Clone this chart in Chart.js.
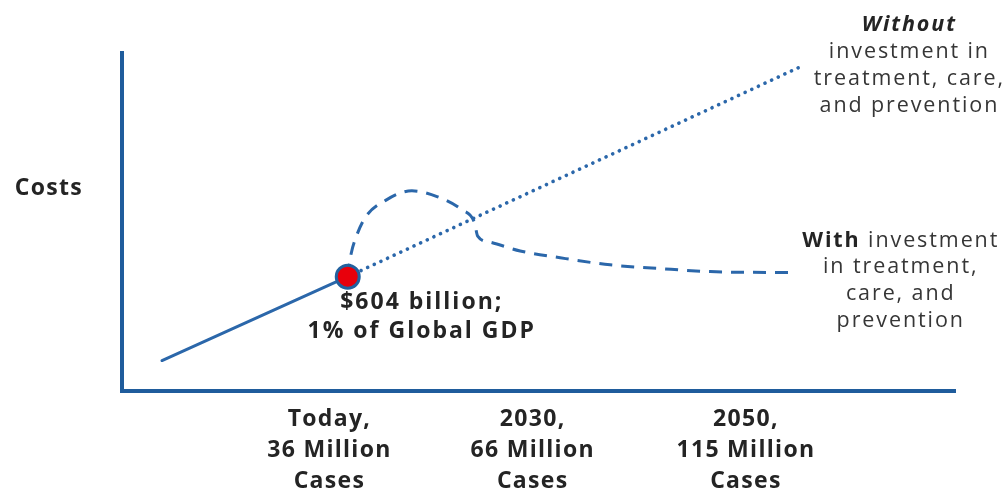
<!DOCTYPE html>
<html>
<head>
<meta charset="utf-8">
<script src="https://cdn.jsdelivr.net/npm/chart.js@4.4.1/dist/chart.umd.min.js"></script>
<style>
html, body { margin: 0; padding: 0; background: #ffffff; }
#wrap { width: 1007px; height: 490px; position: relative; }
</style>
</head>
<body>
<div id="wrap"><canvas id="c" width="1007" height="490"></canvas></div>
<script>
// ---- data (abstract units: x 0..100 across the axis, y 0..100 up the axis) ----
const xTickValues = [24.9, 49.3, 74.9];
const xTickLabels = [["Today,", "36 Million", "Cases"], ["2030,", "66 Million", "Cases"], ["2050,", "115 Million", "Cases"]];
const yTickValues = [59.8];
const yTickLabels = ["Costs"];

const pastX = [4.8, 27.1];
const pastY = [9.0, 33.8];

const withoutX = [27.1, 81.2];
const withoutY = [33.8, 95.6];

const withX = [27.1, 27.5, 28.1, 29.2, 31.6, 34.8, 37.9, 40.8, 42.3, 42.7, 44.2, 47.8, 52.6, 58.6, 64.6, 70.6, 81.0];
const withY = [33.8, 40.5, 45.5, 51.3, 56.3, 59.2, 57.4, 53.6, 49.9, 45.8, 44.0, 41.4, 39.4, 37.3, 36.2, 35.3, 35.0];

const todayX = [27.1];
const todayY = [33.8];

const todayNote = ["$604 billion;", "1% of Global GDP"];
const withoutNote = [[["Without", "bolditalic"]], [["investment in", "regular"]], [["treatment, care,", "regular"]], [["and prevention", "regular"]]];
const withNote = [[["With", "bold"], [" investment", "regular"]], [["in treatment,", "regular"]], [["care, and", "regular"]], [["prevention", "regular"]]];

// ---- styling ----
const FAMILY = "'Open Sans', 'Noto Sans', sans-serif";
const AXIS_COLOR = '#1f5c9c';
const LINE_COLOR = '#2b67aa';
const TEXT_DARK = '#242424';
const TEXT_REG = '#363636';
const SPACING = '1.3px';

function pts(xs, ys) { return xs.map((v, i) => ({ x: v, y: ys[i] })); }

const spacingPlugin = {
  id: 'spacing',
  beforeUpdate(chart) { chart.ctx.letterSpacing = SPACING; },
  beforeLayout(chart) { chart.ctx.letterSpacing = SPACING; },
  beforeDraw(chart) { chart.ctx.letterSpacing = SPACING; }
};

function fontFor(style, size) {
  if (style === 'bold') return `bold ${size}px ${FAMILY}`;
  if (style === 'bolditalic') return `italic bold ${size}px ${FAMILY}`;
  return `${size}px ${FAMILY}`;
}

function drawMixedLine(ctx, parts, cx, cy, size, spacing) {
  ctx.letterSpacing = spacing;
  let total = 0;
  const widths = parts.map(p => { ctx.font = fontFor(p[1], size); const w = ctx.measureText(p[0]).width; total += w; return w; });
  let x = cx - total / 2;
  parts.forEach((p, i) => {
    ctx.font = fontFor(p[1], size);
    ctx.fillStyle = p[1] === 'regular' ? TEXT_REG : TEXT_DARK;
    ctx.fillText(p[0], x, cy);
    x += widths[i];
  });
}

const notesPlugin = {
  id: 'notes',
  afterDatasetsDraw(chart) {
    const { ctx, scales: { x, y } } = chart;
    ctx.save();
    ctx.textBaseline = 'middle';
    ctx.textAlign = 'left';
    // note under today's point
    const px = x.getPixelForValue(todayX[0]);
    const py = y.getPixelForValue(todayY[0]);
    todayNote.forEach((t, i) => drawMixedLine(ctx, [[t, 'bold']], px + 74, py + 26 + i * 29, 23, '2px'));
    // note at end of "without" line
    const wx = x.getPixelForValue(withoutX[withoutX.length - 1]);
    const wy = y.getPixelForValue(withoutY[withoutY.length - 1]);
    withoutNote.forEach((parts, i) => drawMixedLine(ctx, parts, wx + 111, wy - 43 + i * 27, 21.5, '1.9px'));
    // note at end of "with" line
    const ex = x.getPixelForValue(withX[withX.length - 1]);
    const ey = y.getPixelForValue(withY[withY.length - 1]);
    withNote.forEach((parts, i) => drawMixedLine(ctx, parts, ex + 104, ey - 32 + i * 26.7, 21.5, '1.9px'));
    ctx.restore();
  }
};

Chart.defaults.font.family = FAMILY;

new Chart(document.getElementById('c'), {
  type: 'line',
  data: {
    datasets: [
      {
        label: 'Today',
        data: pts(todayX, todayY),
        showLine: false,
        pointRadius: 11.5,
        pointBackgroundColor: '#e8000b',
        pointBorderColor: '#22619f',
        pointBorderWidth: 3
      },
      {
        label: 'Past',
        data: pts(pastX, pastY),
        borderColor: LINE_COLOR,
        borderWidth: 3,
        pointRadius: 0,
        borderCapStyle: 'round'
      },
      {
        label: 'Without investment',
        data: pts(withoutX, withoutY),
        borderColor: LINE_COLOR,
        borderWidth: 3.6,
        borderDash: [0.1, 7.2],
        borderCapStyle: 'round',
        pointRadius: 0
      },
      {
        label: 'With investment',
        data: pts(withX, withY),
        borderColor: LINE_COLOR,
        borderWidth: 3,
        borderDash: [13, 9],
        cubicInterpolationMode: 'monotone',
        pointRadius: 0
      }
    ]
  },
  options: {
    responsive: false,
    animation: false,
    layout: { padding: { left: 0, top: 48, right: 52, bottom: 0 } },
    plugins: { legend: { display: false }, tooltip: { enabled: false } },
    scales: {
      x: {
        type: 'linear',
        min: 0,
        max: 100,
        grid: { display: false, drawTicks: false },
        border: { display: true, color: AXIS_COLOR, width: 4 },
        afterBuildTicks(scale) { scale.ticks = xTickValues.map(v => ({ value: v })); },
        afterFit(scale) { scale.height = 99; },
        ticks: {
          autoSkip: false,
          maxRotation: 0,
          padding: 13,
          color: TEXT_DARK,
          font: { size: 23, weight: 'bold', lineHeight: 1.35 },
          callback(value) { const i = xTickValues.indexOf(value); return i >= 0 ? xTickLabels[i] : ''; }
        }
      },
      y: {
        type: 'linear',
        min: 0,
        max: 100,
        grid: { display: false, drawTicks: false },
        border: { display: true, color: AXIS_COLOR, width: 4 },
        afterBuildTicks(scale) { scale.ticks = yTickValues.map(v => ({ value: v })); },
        afterFit(scale) { scale.width = 122; },
        ticks: {
          autoSkip: false,
          padding: 39,
          color: TEXT_DARK,
          font: { size: 23, weight: 'bold' },
          callback(value) { const i = yTickValues.indexOf(value); return i >= 0 ? yTickLabels[i] : ''; }
        }
      }
    }
  },
  plugins: [spacingPlugin, notesPlugin]
});
</script>
</body>
</html>
